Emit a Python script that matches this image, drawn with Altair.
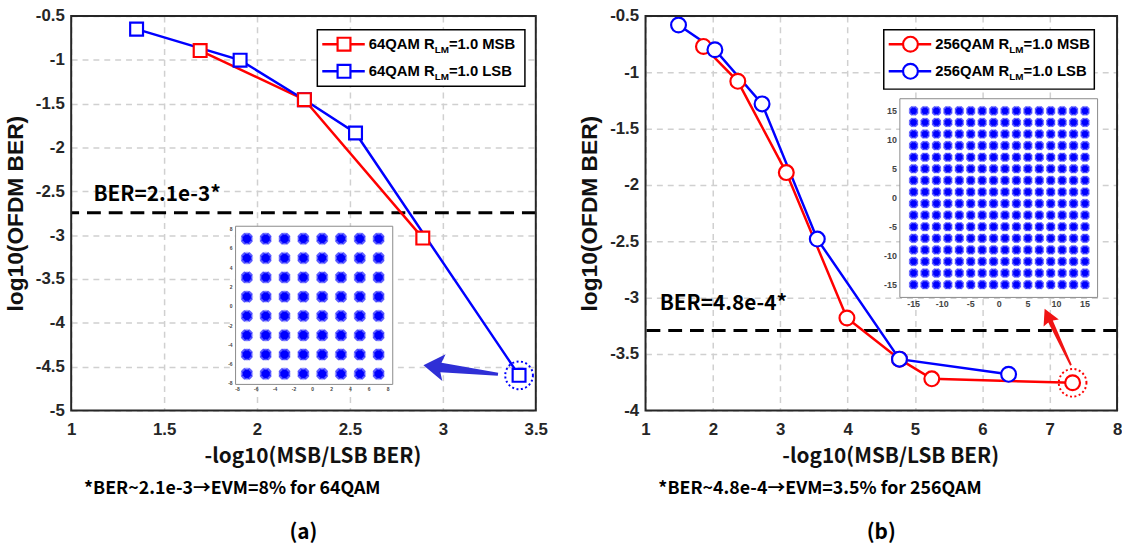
import altair as alt
import pandas as pd

# ---------------- data ----------------
# panel (a) 64QAM
a_msb_x = [1.694, 2.255, 2.892]
a_msb_y = [-0.895, -1.455, -3.034]
a_lsb_x = [1.352, 1.909, 2.255, 2.530, 3.410]
a_lsb_y = [-0.650, -1.004, -1.455, -1.835, -4.600]
a_ber = -2.745
a_ber_text = "BER=2.1e-3*"
a_ber_text_xy = [1.12, -2.54]
a_arrow_xy = [3.096, -4.536]
a_xticks = [1, 1.5, 2, 2.5, 3, 3.5]
a_yticks = [-0.5, -1, -1.5, -2, -2.5, -3, -3.5, -4, -4.5, -5]
a_legend = ["64QAM R", "LM", "=1.0 MSB", "64QAM R", "LM", "=1.0 LSB"]
a_note = "*BER~2.1e-3\u2192EVM=8% for 64QAM"
a_label = "(a)"

# panel (b) 256QAM
b_msb_x = [1.86, 2.37, 3.09, 3.99, 4.77, 5.25, 7.34]
b_msb_y = [-0.77, -1.08, -1.89, -3.18, -3.545, -3.72, -3.755]
b_lsb_x = [1.49, 2.03, 2.73, 3.55, 4.77, 6.39]
b_lsb_y = [-0.58, -0.80, -1.28, -2.48, -3.545, -3.68]
b_ber = -3.29
b_ber_text = "BER=4.8e-4*"
b_ber_text_xy = [1.21, -3.06]
b_arrow_xy = [7.12, -3.349]
b_xticks = [1, 2, 3, 4, 5, 6, 7, 8]
b_yticks = [-0.5, -1, -1.5, -2, -2.5, -3, -3.5, -4]
b_legend = ["256QAM R", "LM", "=1.0 MSB", "256QAM R", "LM", "=1.0 LSB"]
b_note = "*BER~4.8e-4\u2192EVM=3.5% for 256QAM"
b_label = "(b)"

# constellation insets
qam64_levels = [-7, -5, -3, -1, 1, 3, 5, 7]
qam64_ticks = [-8, -6, -4, -2, 0, 2, 4, 6, 8]
qam256_levels = [-15, -13, -11, -9, -7, -5, -3, -1, 1, 3, 5, 7, 9, 11, 13, 15]
qam256_ticks = [-15, -10, -5, 0, 5, 10, 15]

RED = "#ff0000"
BLUE = "#0000ff"
H = 399

# Arial-bold-like advance widths (per 1000 em) for legend layout
_W = {"0": 556, "1": 556, "2": 556, "4": 556, "5": 556, "6": 556, "Q": 778, "A": 722,
      "M": 833, " ": 278, "R": 722, "L": 611, "=": 584, ".": 278, "S": 667, "B": 722}


def tw(s, size):
    return sum(_W.get(c, 600) for c in s) * size / 1000.0


def panel(msb_x, msb_y, lsb_x, lsb_y, shape, msize, xdom, xticks, yticks, width,
          ber, ber_text, ber_xy, hl_color, hl_xy, arrow_xy, arrow_shape, arrow_size,
          arrow_angle, arrow_color, legend, leg_box, note, label,
          levels, ticks, in_xdom, in_ydom, in_xr, in_yr, in_font, core, halo, star,
          red_on_top):
    xs = alt.Scale(domain=xdom, nice=False, zero=False)
    ys = alt.Scale(domain=[-0.5, yticks[-1]][::-1], nice=False, zero=False)
    ax = alt.Axis(values=xticks, labelExpr="'' + datum.value", title="-log10(MSB/LSB BER)",
                  grid=True, ticks=False, domain=False, labelFlush=False,
                  labelFont="Liberation Sans", labelFontWeight="bold", labelFontSize=17,
                  labelColor="#262626", labelPadding=11,
                  titleFont="Noto Sans CJK SC", titleFontWeight="bold", titleFontSize=21,
                  titleColor="#111111", titlePadding=9, titleX=width / 2 + 9,
                  gridColor="#d0d0d0", gridDash=[6, 5], gridWidth=1.5)
    ay = alt.Axis(values=yticks, labelExpr="'' + datum.value", title="log10(OFDM BER)",
                  grid=True, ticks=False, domain=False,
                  labelFont="Liberation Sans", labelFontWeight="bold", labelFontSize=17,
                  labelColor="#262626", labelPadding=7,
                  titleFont="Liberation Sans", titleFontWeight="bold", titleFontSize=23,
                  titleColor="#111111", titlePadding=8,
                  gridColor="#d0d0d0", gridDash=[6, 5], gridWidth=1.5)
    X = alt.X("x:Q", scale=xs, axis=ax)
    Y = alt.Y("y:Q", scale=ys, axis=ay)

    msb = pd.DataFrame({"x": msb_x, "y": msb_y})
    lsb = pd.DataFrame({"x": lsb_x, "y": lsb_y})
    one = pd.DataFrame({"a": [0]})

    layers = []
    layers.append(alt.Chart(pd.DataFrame({"y": [ber]})).mark_rule(
        color="black", strokeWidth=3, strokeDash=[14, 8]).encode(y=Y))
    layers.append(alt.Chart(pd.DataFrame({"x": [ber_xy[0]], "y": [ber_xy[1]], "t": [ber_text]}))
                  .mark_text(align="left", baseline="middle", font="Noto Sans CJK SC",
                             fontWeight="bold", fontSize=21, color="black")
                  .encode(x=X, y=Y, text="t:N"))
    layers.append(alt.Chart(msb).mark_line(color=RED, strokeWidth=2.5).encode(x=X, y=Y))
    layers.append(alt.Chart(lsb).mark_line(color=BLUE, strokeWidth=2.5).encode(x=X, y=Y))

    def markers(df, c):
        return alt.Chart(df).mark_point(shape=shape, size=msize, filled=True, fill="white",
                                        stroke=c, strokeWidth=2.2, opacity=1).encode(x=X, y=Y)
    if red_on_top:
        layers += [markers(lsb, BLUE), markers(msb, RED)]
    else:
        layers += [markers(msb, RED), markers(lsb, BLUE)]

    layers.append(alt.Chart(pd.DataFrame({"x": [hl_xy[0]], "y": [hl_xy[1]]}))
                  .mark_point(shape="circle", size=784, filled=False, color=hl_color,
                              strokeDash=[2, 2.5], strokeWidth=2, opacity=1)
                  .encode(x=X, y=Y))
    layers.append(alt.Chart(pd.DataFrame({"x": [arrow_xy[0]], "y": [arrow_xy[1]]}))
                  .mark_point(shape=arrow_shape, size=arrow_size, angle=arrow_angle,
                              filled=True, color=arrow_color, opacity=1, strokeWidth=0)
                  .encode(x=X, y=Y))

    # frame drawn above the grid
    layers.append(alt.Chart(one).mark_rect(fill=None, stroke="#262626", strokeWidth=2)
                  .encode(x=alt.value(0), x2=alt.value(width), y=alt.value(0), y2=alt.value(H)))

    # legend (layout in pixels)
    bx0, bx1, by0, by1 = leg_box
    layers.append(alt.Chart(one).mark_rect(fill="white", stroke="black", strokeWidth=1.5)
                  .encode(x=alt.value(bx0), x2=alt.value(bx1), y=alt.value(by0), y2=alt.value(by1)))
    rows = [by0 + 14.5, by0 + 42]
    for i, (c, ry) in enumerate(zip([RED, BLUE], rows)):
        layers.append(alt.Chart(one).mark_rule(color=c, strokeWidth=2.5)
                      .encode(x=alt.value(bx0 + 5), x2=alt.value(bx0 + 48), y=alt.value(ry)))
        layers.append(alt.Chart(one).mark_point(shape=shape, size=msize, filled=True, fill="white",
                                                stroke=c, strokeWidth=2.2, opacity=1)
                      .encode(x=alt.value(bx0 + 27), y=alt.value(ry)))
        p1, p2, p3 = legend[3 * i: 3 * i + 3]
        tx = bx0 + 52
        for txt, dx, fs, dy in [(p1, 0, 15, 0), (p2, tw(p1, 15), 10, 6),
                                (p3, tw(p1, 15) + tw(p2, 10), 15, 0)]:
            layers.append(alt.Chart(pd.DataFrame({"t": [txt]}))
                          .mark_text(align="left", baseline="middle", font="Liberation Sans",
                                     fontWeight="bold", fontSize=fs, color="black", dy=dy)
                          .encode(x=alt.value(tx + dx), y=alt.value(ry), text="t:N"))

    layers.append(alt.Chart(pd.DataFrame({"t": [note]}))
                  .mark_text(align="left", baseline="middle", font="Noto Sans CJK SC",
                             fontWeight="bold", fontSize=18, color="black")
                  .encode(x=alt.value(13), y=alt.value(479), text="t:N"))
    layers.append(alt.Chart(pd.DataFrame({"t": [label]}))
                  .mark_text(align="center", baseline="middle", font="Noto Sans CJK SC",
                             fontWeight="bold", fontSize=21, color="black")
                  .encode(x=alt.value(width / 2), y=alt.value(523), text="t:N"))

    main = alt.layer(*layers)

    # constellation inset
    ixs = alt.Scale(domain=in_xdom, range=in_xr, nice=False, zero=False)
    iys = alt.Scale(domain=in_ydom, range=in_yr, nice=False, zero=False)
    IX = alt.X("cx:Q", scale=ixs, axis=None)
    IY = alt.Y("cy:Q", scale=iys, axis=None)
    pts = pd.DataFrame([{"cx": a, "cy": b} for a in levels for b in levels])
    box = pd.DataFrame({"cx": [in_xdom[0]], "cy": [in_ydom[0]], "cx2": [in_xdom[1]], "cy2": [in_ydom[1]]})
    tdf = pd.DataFrame({"cx": ticks, "cy": [in_ydom[0]] * len(ticks), "t": [str(v) for v in ticks]})
    tdfy = pd.DataFrame({"cx": [in_xdom[0]] * len(ticks), "cy": ticks, "t": [str(v) for v in ticks]})
    inset = alt.layer(
        alt.Chart(box).mark_rect(fill="white", stroke="#8a8a8a", strokeWidth=1)
        .encode(x=IX, y=IY, x2="cx2:Q", y2="cy2:Q"),
        alt.Chart(pts).mark_point(shape="circle", size=halo, filled=True, color=BLUE, opacity=0.18)
        .encode(x=IX, y=IY),
        alt.Chart(pts).mark_point(shape="cross", size=star, angle=45, filled=True, color=BLUE,
                                  opacity=0.55).encode(x=IX, y=IY),
        alt.Chart(pts).mark_point(shape="cross", size=star * 0.8, filled=True, color=BLUE,
                                  opacity=0.55).encode(x=IX, y=IY),
        alt.Chart(pts).mark_point(shape="circle", size=core, filled=True, color=BLUE, opacity=1)
        .encode(x=IX, y=IY),
        alt.Chart(tdf).mark_text(baseline="top", dy=3, fontSize=in_font, color="#444444",
                                 font="Liberation Sans", fontWeight="bold")
        .encode(x=IX, y=IY, text="t:N"),
        alt.Chart(tdfy).mark_text(align="right", baseline="middle", dx=-3, fontSize=in_font,
                                  color="#444444", font="Liberation Sans", fontWeight="bold")
        .encode(x=IX, y=IY, text="t:N"),
    )

    return alt.layer(main, inset).resolve_scale(x="independent", y="independent").properties(
        width=width, height=H)


arrow_a = "M-1,0 L-0.45,-0.36 L-0.53,-0.12 L1,-0.04 L1,0.04 L-0.53,0.13 L-0.45,0.36 Z"
arrow_b = "M-1,0 L-0.5,-0.27 L-0.55,-0.08 L1,-0.03 L1,0.03 L-0.55,0.08 L-0.5,0.27 Z"

left = panel(a_msb_x, a_msb_y, a_lsb_x, a_lsb_y, "square", 169, [1, 3.5], a_xticks, a_yticks, 470,
             a_ber, a_ber_text, a_ber_text_xy, BLUE, [a_lsb_x[-1], a_lsb_y[-1]],
             a_arrow_xy, arrow_a, 5776, 7, "#2f2fd6", a_legend, [249, 459, 14, 71],
             a_note, a_label, qam64_levels, qam64_ticks, [-8.2, 8.5], [-8.1, 8.3],
             [166.3, 325.3], [372.7, 212.7], 5, 70, 170, 150, True)

right = panel(b_msb_x, b_msb_y, b_lsb_x, b_lsb_y, "circle", 225, [1, 8], b_xticks, b_yticks, 477,
              b_ber, b_ber_text, b_ber_text_xy, RED, [b_msb_x[-1], b_msb_y[-1]],
              b_arrow_xy, arrow_b, 3969, 65, "#f01414", b_legend, [241, 454, 14, 74],
              b_note, b_label, qam256_levels, qam256_ticks, [-17.4, 17.2], [-17.2, 17.1],
              [257.3, 457.3], [284.7, 83.7], 9, 40, 105, 95, False)

chart = alt.hconcat(left, right, spacing=31).properties(
    padding={"left": 4, "top": 4, "right": 0, "bottom": 0}, background="white"
).configure_view(stroke=None)

chart.save("out.html", embed_options={"renderer": "svg", "actions": False})
